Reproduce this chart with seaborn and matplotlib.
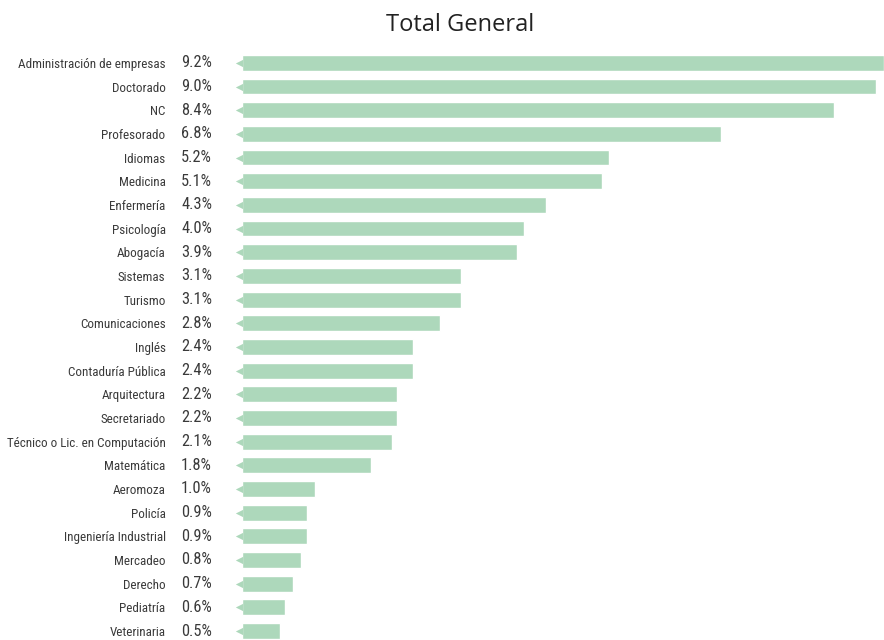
import matplotlib
matplotlib.use("Agg")
import matplotlib.pyplot as plt
import matplotlib.transforms as mtransforms
from matplotlib import font_manager
import seaborn as sns
import pandas as pd

carreras = [
    "Administración de empresas", "Doctorado", "NC", "Profesorado", "Idiomas",
    "Medicina", "Enfermería", "Psicología", "Abogacía", "Sistemas", "Turismo",
    "Comunicaciones", "Inglés", "Contaduría Pública", "Arquitectura",
    "Secretariado", "Técnico o Lic. en Computación", "Matemática", "Aeromoza",
    "Policía", "Ingeniería Industrial", "Mercadeo", "Derecho", "Pediatría",
    "Veterinaria",
]
porcentajes = [
    9.16, 9.04, 8.44, 6.84, 5.24, 5.14, 4.34, 4.03, 3.92, 3.12, 3.12, 2.82,
    2.44, 2.44, 2.21, 2.21, 2.14, 1.84, 1.04, 0.93, 0.93, 0.84, 0.73, 0.61,
    0.54,
]

df = pd.DataFrame({"carrera": carreras, "pct": porcentajes})

sns.set_theme(style="white")

# pick a narrow face if one is installed
instalados = {f.name for f in font_manager.fontManager.ttflist}
narrow = [f for f in ["Roboto Condensed", "Liberation Sans Narrow",
                      "DejaVu Sans Condensed", "Open Sans Condensed"]
          if f in instalados]
font = narrow[:1] + ["DejaVu Sans"]
plt.rcParams["font.family"] = font
plt.rcParams["font.stretch"] = "condensed"

verde = "#add8bb"
gris = "#3a3a3a"

fig = plt.figure(figsize=(8.84, 6.4), dpi=100)
ax = fig.add_axes([242 / 884, 0.0, 642 / 884, 589 / 640])

sns.barplot(data=df, y="carrera", x="pct", orient="h", color=verde,
            saturation=1, width=0.67, ax=ax)

n = len(carreras)
ax.set_xlim(0, porcentajes[0])
ax.set_ylim(n - 1 + 0.38, -0.5)
sns.despine(ax=ax, left=True, bottom=True)
ax.set_xticks([])
ax.set_xlabel("")
ax.set_ylabel("")
lab_size = 9.4 if narrow else 8.5
ax.tick_params(axis="y", length=0, pad=55, labelsize=lab_size, labelcolor=gris)

# small pointer triangles at the start of each bar
ax.scatter([-0.036] * n, range(n), marker="<", s=28, color=verde,
           linewidths=0, clip_on=False, zorder=3)

trans = mtransforms.blended_transform_factory(ax.transAxes, ax.transData)
for i, v in enumerate(porcentajes):
    ax.text(-0.095, i, f"{v:.1f}%", transform=trans, ha="left", va="center",
            fontsize=11.8 if narrow else 10.5, color=gris, family=font)

fig.text(460 / 884, 1 - 25 / 640, "Total General", ha="center", va="center",
         fontsize=17, color="#222222", fontstretch="normal",
         family=["Open Sans", "DejaVu Sans"])

fig.savefig("out.png", dpi=100)
